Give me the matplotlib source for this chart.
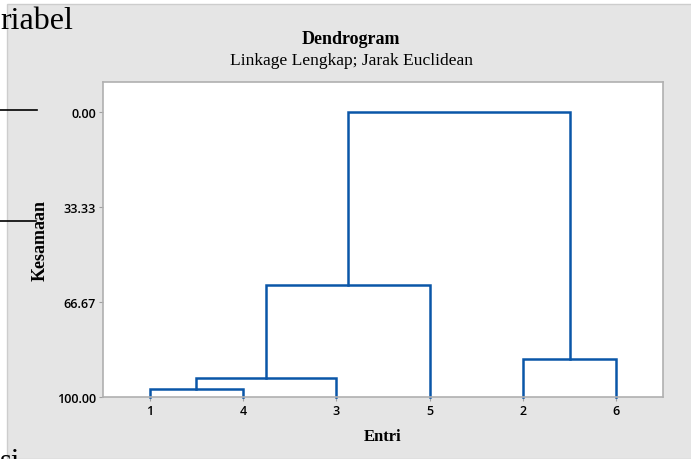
import matplotlib.pyplot as plt
from matplotlib.patches import Rectangle

# leaf order on the x axis and the merge steps (cluster ids, similarity level)
leaf_order = ["1", "4", "3", "5", "2", "6"]
merge_pairs = [("1", "4"), ("1", "3"), ("1", "5"), ("2", "6"), ("1", "2")]
similarity = [97.2, 93.3, 60.7, 86.7, 0.0]
y_ticks = [0.00, 33.33, 66.67, 100.00]

line_col = "#0a56a8"
serif = "Liberation Serif"

fig = plt.figure(figsize=(6.91, 4.60), dpi=100)
fig.patch.set_facecolor("white")
W, H = 691, 460

# grey Minitab panel
fig.patches.append(Rectangle((7 / W, 0), 1, 1 - 5 / H, transform=fig.transFigure,
                             facecolor="#e5e5e5", edgecolor="#cdcdcd", lw=1, zorder=-5))

ax = fig.add_axes([103 / W, 1 - 398 / H, 560 / W, 315 / H])
ax.set_facecolor("white")

# positions of current clusters: x position and height
pos = {lab: (i + 1, 100.0) for i, lab in enumerate(leaf_order)}
for (a, b), s in zip(merge_pairs, similarity):
    xa, ha = pos[a]
    xb, hb = pos[b]
    ax.plot([xa, xa, xb, xb], [ha, s, s, hb], color=line_col, lw=1.8,
            solid_joinstyle="miter", clip_on=False)
    pos[a] = ((xa + xb) / 2, s)
    del pos[b]

ax.set_xlim(0.5, 6.5)
ax.set_ylim(100, -10.5)
ax.set_xticks(range(1, len(leaf_order) + 1))
ax.set_xticklabels(leaf_order)
ax.set_yticks(y_ticks)
ax.set_yticklabels([f"{v:.2f}" for v in y_ticks])
for lab in ax.get_xticklabels() + ax.get_yticklabels():
    lab.set_fontfamily("Open Sans")
    lab.set_fontweight("semibold")
    lab.set_fontsize(9)
ax.tick_params(length=3, width=0.8, color="#a0a0a0", pad=2)
for sp in ax.spines.values():
    sp.set_color("#b0b0b0")
    sp.set_linewidth(1.2)

ax.set_xlabel("Entri", family=serif, fontweight="bold", fontsize=12, labelpad=8)
ax.set_ylabel("Kesamaan", family=serif, fontweight="bold", fontsize=13, labelpad=6)

fig.text(351 / W, 1 - 40 / H, "Dendrogram", family=serif, fontweight="bold",
         fontsize=13, ha="center", va="center")
fig.text(351 / W, 1 - 61 / H, "Linkage Lengkap; Jarak Euclidean", family=serif,
         fontsize=12.6, ha="center", va="center")

# surrounding document bits
fig.text(0, 1 - 29 / H, "riabel", family=serif, fontsize=23, ha="left", va="baseline")
fig.add_artist(plt.Line2D([0, 37 / W], [1 - 111 / H] * 2, color="black", lw=1.2))
fig.add_artist(plt.Line2D([0, 36 / W], [1 - 222 / H] * 2, color="black", lw=1.2))
fig.text(0, 1 - 470 / H, "si", family=serif, fontsize=22, ha="left", va="baseline")

fig.savefig("out.png", dpi=100)
